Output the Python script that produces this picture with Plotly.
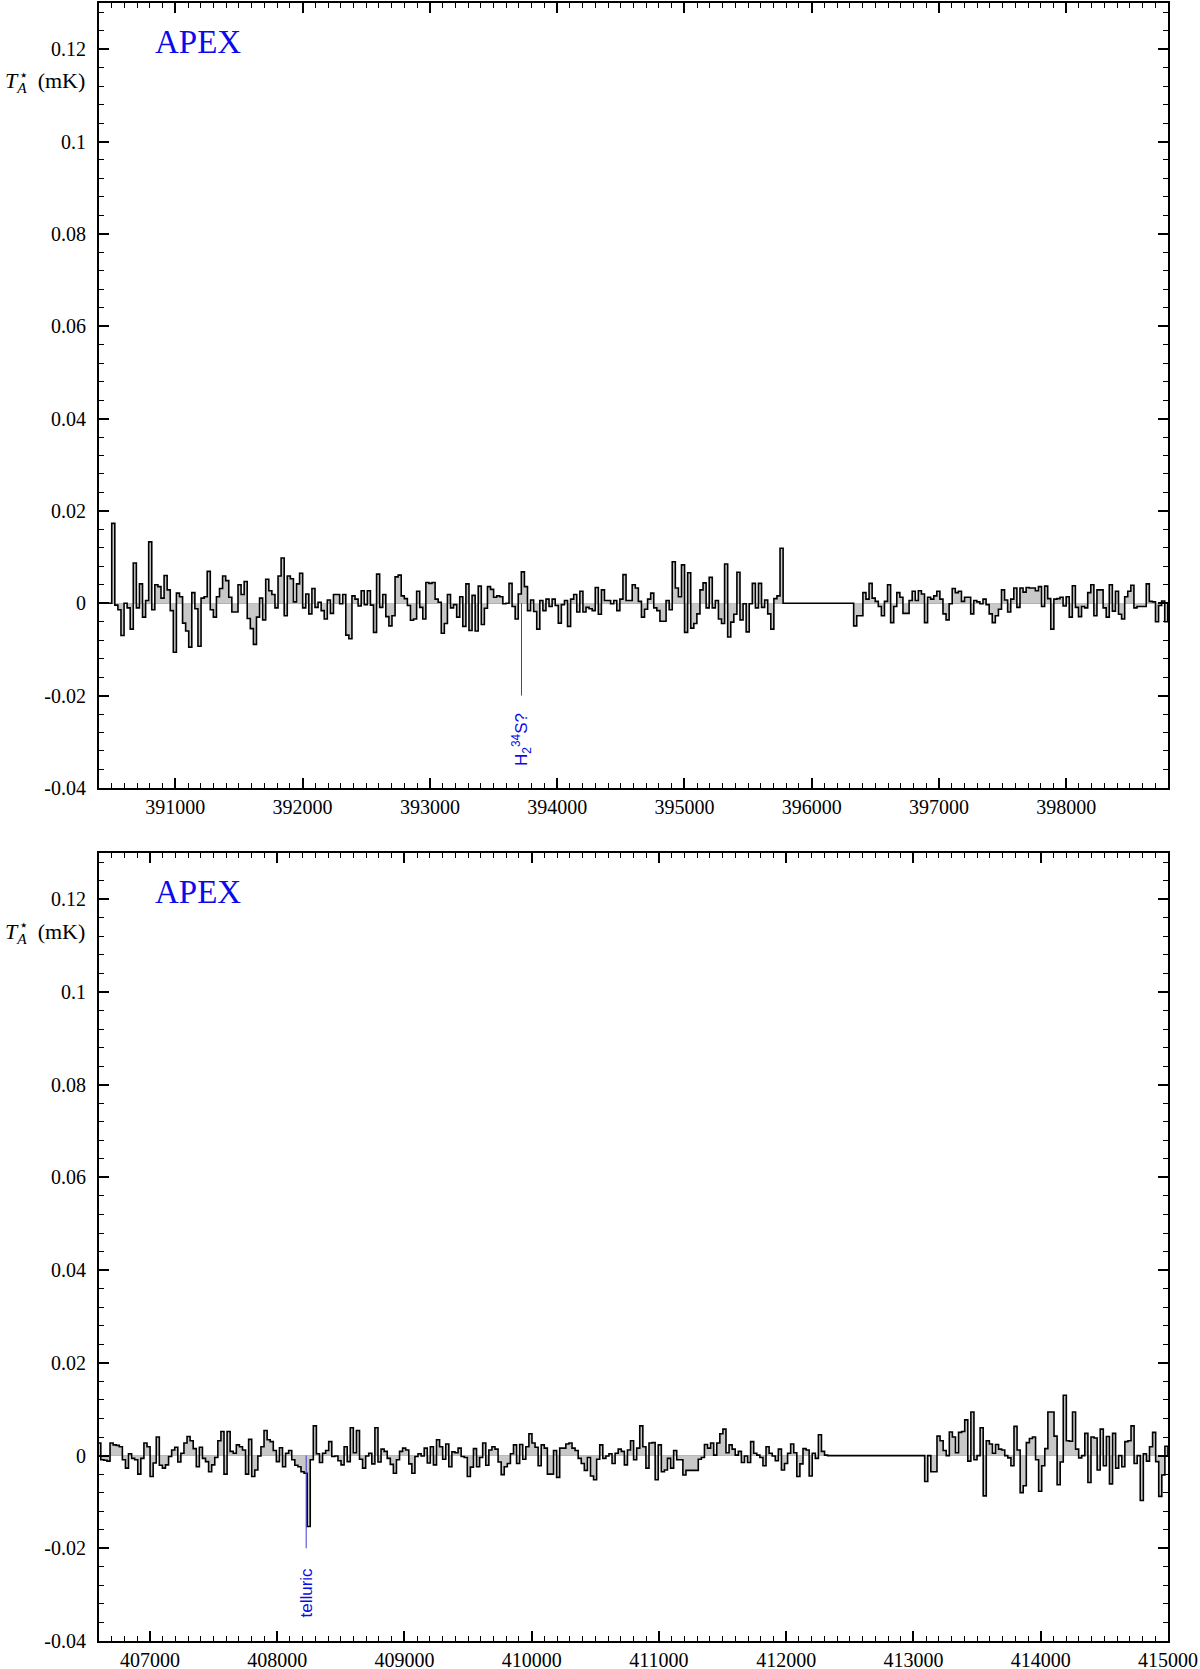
import plotly.graph_objects as go

# ---------------- data ----------------
CHAN_MHZ = 24.2

# top panel (APEX, 390.4-398.8 GHz)
top_x_range = [390400, 398800]
top_seg1_start = 390500
top_seg1_vals = [
    0.0173, -0.0004, -0.0014, -0.0070, 0.0000, -0.0010, -0.0056, 0.0087, -0.0010, 0.0042,
    -0.0030, 0.0006, 0.0133, -0.0014, 0.0040, 0.0036, 0.0011, 0.0060, 0.0029, -0.0016,
    -0.0106, 0.0022, 0.0014, -0.0043, -0.0060, -0.0095, 0.0023, -0.0012, -0.0093, 0.0011,
    0.0014, 0.0069, -0.0014, -0.0030, 0.0014, 0.0032, 0.0059, 0.0049, 0.0013, -0.0019,
    -0.0019, 0.0040, 0.0019, 0.0047, -0.0033, -0.0055, -0.0089, -0.0030, 0.0011, -0.0036,
    0.0052, 0.0027, 0.0019, -0.0010, 0.0059, 0.0098, -0.0027, 0.0059, 0.0053, 0.0003,
    0.0042, 0.0065, -0.0010, 0.0020, -0.0023, 0.0032, -0.0009, 0.0002, -0.0016, -0.0034,
    0.0007, -0.0022, 0.0019, 0.0019, -0.0001, 0.0019, -0.0069, -0.0077, 0.0016, 0.0009,
    -0.0006, 0.0027, -0.0003, 0.0027, -0.0004, -0.0063, 0.0063, -0.0009, 0.0019, -0.0029,
    -0.0049, -0.0027, 0.0057, 0.0061, 0.0016, 0.0010, -0.0005, -0.0037, -0.0034, 0.0026,
    -0.0009, -0.0034, 0.0045, 0.0043, 0.0045, 0.0009, 0.0002, -0.0065, -0.0044, 0.0019,
    -0.0010, -0.0003, -0.0030, 0.0014, -0.0050, 0.0042, -0.0059, 0.0017, -0.0060, 0.0037,
    -0.0046, -0.0011, 0.0036, 0.0030, 0.0013, 0.0016, 0.0014, -0.0001, 0.0000,
    0.0043, -0.0007, -0.0034, 0.0020, 0.0068, 0.0036, -0.0016, 0.0007, -0.0018, -0.0056,
    0.0006, -0.0016, 0.0009, -0.0007, 0.0009, -0.0005, -0.0043, -0.0003, 0.0006, -0.0050,
    0.0009, 0.0019, -0.0019, 0.0026, -0.0019, -0.0009, -0.0012, -0.0016, 0.0034, -0.0024,
    0.0029, 0.0006, 0.0006, -0.0001, 0.0006, -0.0016, 0.0009, 0.0062, 0.0006, 0.0006,
    0.0040, 0.0033, 0.0004, -0.0030, -0.0013, 0.0009, 0.0022, -0.0010, -0.0016, -0.0039,
    -0.0039, 0.0006, -0.0014, 0.0090, 0.0033, 0.0014, 0.0083, -0.0063, 0.0066, -0.0054,
    -0.0044, -0.0023, 0.0029, 0.0044, -0.0010, 0.0056, -0.0010, 0.0006, -0.0034, -0.0044,
    0.0085, -0.0073, -0.0041, -0.0024, 0.0067, -0.0036, -0.0001, -0.0062, -0.0001, 0.0043,
    -0.0010, 0.0043, -0.0009, 0.0007, -0.0023, -0.0056, 0.0010, 0.0016, 0.0119,
]
top_seg2_start = 396330
top_seg2_vals = [
    -0.0049, -0.0027, -0.0027, 0.0023, 0.0009, 0.0043, 0.0011, 0.0004, -0.0007, -0.0027,
    0.0004, 0.0040, -0.0042, -0.0007, 0.0023, 0.0013, -0.0022, -0.0022, 0.0006, 0.0026,
    0.0006, 0.0027, 0.0020, -0.0042, 0.0013, 0.0009, 0.0016, 0.0026, 0.0009, -0.0023,
    -0.0036, -0.0001, 0.0032, 0.0023, 0.0026, 0.0004, 0.0013, 0.0013, -0.0023, 0.0006,
    0.0003, -0.0001, 0.0009, -0.0003, -0.0023, -0.0042, -0.0027, -0.0013, 0.0029, 0.0007,
    -0.0019, 0.0009, 0.0033, -0.0009, 0.0033, 0.0024, 0.0034, 0.0033, 0.0033, 0.0027,
    0.0036, -0.0007, 0.0037, 0.0010, -0.0056, 0.0009, 0.0010, 0.0013, -0.0006, 0.0014,
    -0.0030, 0.0038, -0.0009, -0.0029, -0.0007, -0.0010, 0.0023, 0.0040, -0.0027, 0.0029,
    0.0029, -0.0010, -0.0030, 0.0040, -0.0017, 0.0026, -0.0024, -0.0034, 0.0014, 0.0026,
    0.0039, -0.0010, -0.0007, -0.0007, -0.0007, 0.0042, 0.0004, 0.0003, -0.0040, -0.0005,
    0.0005, -0.0040,
]

# bottom panel (APEX, 406.6-415 GHz)
bot_x_range = [406600, 415000]
bot_seg1_start = 406590
bot_seg1_vals = [
    0.0027, -0.0009, -0.0010, -0.0012, 0.0027, 0.0023, 0.0022, 0.0019, -0.0009, -0.0027,
    0.0004, -0.0006, -0.0009, -0.0040, -0.0006, 0.0027, 0.0019, -0.0045, -0.0016, 0.0040,
    -0.0021, -0.0027, -0.0020, -0.0002, 0.0012, 0.0018, -0.0014, 0.0005, 0.0027, 0.0041,
    0.0032, 0.0015, -0.0024, 0.0018, -0.0006, -0.0013, -0.0035, -0.0020, -0.0004, 0.0032,
    0.0052, -0.0040, 0.0052, 0.0009, 0.0005, 0.0023, 0.0019, 0.0012, -0.0040, 0.0035,
    -0.0045, -0.0031, -0.0001, 0.0019, 0.0054, 0.0034, 0.0030, 0.0011, -0.0013, 0.0017,
    -0.0024, 0.0005, 0.0011, -0.0009, -0.0021, -0.0024, -0.0035, -0.0038, -0.0153, -0.0009,
    0.0064, 0.0004, -0.0015, 0.0005, 0.0011, 0.0030, -0.0002, -0.0001, -0.0011, -0.0020,
    0.0019, -0.0013, 0.0060, 0.0006, 0.0054, -0.0008, -0.0027, -0.0001, 0.0005, -0.0018,
    0.0060, -0.0014, 0.0014, 0.0009, -0.0006, -0.0019, -0.0038, -0.0009, 0.0009, 0.0016,
    0.0012, -0.0018, -0.0038, -0.0002, 0.0004, -0.0001, 0.0016, -0.0016, 0.0019, -0.0020,
    0.0034, 0.0019, -0.0008, 0.0025, -0.0024, 0.0008, 0.0006, 0.0016, -0.0002, -0.0004,
    -0.0045, -0.0025, 0.0015, -0.0024, -0.0004, 0.0027, -0.0021, 0.0012, 0.0019,
    0.0014, -0.0014, -0.0041, -0.0024, -0.0017, 0.0004, 0.0023, -0.0017, 0.0024, -0.0008,
    0.0019, 0.0047, 0.0027, 0.0018, -0.0022, 0.0023, 0.0016, -0.0040, -0.0040, 0.0011,
    -0.0047, 0.0016, 0.0016, 0.0025, 0.0027, 0.0016, 0.0011, -0.0006, -0.0017, -0.0032,
    -0.0004, -0.0044, -0.0052, -0.0008, 0.0023, -0.0006, -0.0001, 0.0004, -0.0017, 0.0005,
    0.0014, 0.0009, -0.0020, 0.0012, 0.0032, -0.0009, 0.0016, 0.0064, 0.0019, -0.0027,
    0.0027, 0.0028, -0.0052, 0.0023, -0.0035, -0.0031, -0.0006, -0.0027, 0.0011, -0.0009,
    -0.0009, -0.0042, -0.0032, -0.0032, -0.0032, -0.0032, -0.0008, -0.0004, 0.0024, 0.0016,
    0.0027, 0.0001, 0.0027, 0.0047, 0.0057, 0.0006, 0.0023, 0.0014, 0.0001, 0.0009,
    -0.0015, -0.0001, -0.0015, 0.0030, 0.0005, 0.0001, -0.0004, -0.0022, 0.0019, 0.0005,
    -0.0001, -0.0011, 0.0014, -0.0031, -0.0017, 0.0005, 0.0025, 0.0006, -0.0045, -0.0018,
    0.0015, 0.0012, -0.0044, 0.0005, -0.0006, 0.0045, 0.0009, 0.0001,
]
bot_seg2_start = 413088
bot_seg2_vals = [
    -0.0056, 0.0000, -0.0035, -0.0035, 0.0042, 0.0032, 0.0011, 0.0000, 0.0051, 0.0040,
    0.0006, 0.0050, 0.0052, 0.0077, -0.0012, 0.0094, -0.0009, 0.0000, 0.0060, -0.0087,
    0.0032, 0.0025, 0.0005, 0.0024, 0.0014, 0.0012, 0.0000, -0.0005, -0.0022, 0.0063,
    0.0012, -0.0080, -0.0065, 0.0028, 0.0037, 0.0040, -0.0009, -0.0077, -0.0022, 0.0015,
    0.0094, 0.0094, 0.0042, -0.0063, -0.0014, 0.0130, 0.0032, 0.0031, 0.0094, 0.0014,
    -0.0005, 0.0000, 0.0048, -0.0058, 0.0040, 0.0038, -0.0031, 0.0057, -0.0022, 0.0041,
    -0.0061, 0.0048, -0.0027, 0.0000, -0.0024, 0.0030, 0.0032, 0.0064, -0.0017, 0.0000,
    -0.0097, 0.0004, -0.0012, 0.0019, 0.0050, -0.0013, -0.0088, -0.0042, 0.0020,
]

y_range = [-0.04, 0.13]
y_tick_vals = [-0.04, -0.02, 0, 0.02, 0.04, 0.06, 0.08, 0.1, 0.12]
y_tick_text = ["-0.04", "-0.02", "0", "0.02", "0.04", "0.06", "0.08", "0.1", "0.12"]
top_x_ticks = [391000, 392000, 393000, 394000, 395000, 396000, 397000, 398000]
bot_x_ticks = [407000, 408000, 409000, 410000, 411000, 412000, 413000, 414000, 415000]

# line identifications: (freq, label)
top_lines = [(393720, "H<sub>2</sub><sup>34</sup>S?")]
bot_lines = [(408228, "telluric")]
panel_label = "APEX"
y_title = "<i>T</i><sub><i>A</i></sub>\u00a0\u00a0(mK)"

# ---------------- build ----------------
SERIF = "Liberation Serif, Times New Roman, serif"
SANS = "Liberation Sans, Arial, sans-serif"
BLUE_TXT = "rgb(10,10,235)"
BLUE_LINE = "rgb(60,60,215)"


def step_xy(xmin, segments):
    xs, ys = [xmin], [0.0]
    for start, vals in segments:
        xs.append(start)
        ys.append(0.0)
        for k, v in enumerate(vals):
            xs.append(start + k * CHAN_MHZ)
            ys.append(v)
        end = start + len(vals) * CHAN_MHZ
        xs.append(end)
        ys.append(0.0)
    return xs, ys


fig = go.Figure()
panels = [
    ("x", "y", top_x_range, [(top_seg1_start, top_seg1_vals), (top_seg2_start, top_seg2_vals)], top_lines),
    ("x2", "y2", bot_x_range, [(bot_seg1_start, bot_seg1_vals), (bot_seg2_start, bot_seg2_vals)], bot_lines),
]

for xa, ya, xr, segs, lines in panels:
    xs, ys = step_xy(xr[0], segs)
    fig.add_trace(go.Scatter(
        x=xs, y=ys, xaxis=xa, yaxis=ya, mode="lines",
        line=dict(color="black", width=1.6, shape="hv"),
        fill="tozeroy", fillcolor="rgb(200,200,200)", showlegend=False, hoverinfo="skip",
    ))
    for f, lab in lines:
        fig.add_shape(type="line", xref=xa, yref=ya, x0=f, x1=f, y0=0, y1=-0.02,
                      line=dict(color=BLUE_LINE, width=1))
        fig.add_annotation(xref=xa, yref=ya, x=f, y=-0.0295, text=lab, textangle=-90,
                           showarrow=False, xanchor="center", yanchor="middle",
                           font=dict(family=SANS, size=17, color=BLUE_TXT))
    fig.add_annotation(xref=xa + " domain", yref=ya, x=0.0505, y=0.1216, text=panel_label,
                       showarrow=False, xanchor="left", yanchor="middle",
                       font=dict(family=SERIF, size=33, color=BLUE_TXT))
    fig.add_annotation(xref=xa + " domain", yref=ya, x=0, y=0.1128, text=y_title,
                       showarrow=False, xanchor="right", yanchor="middle", xshift=-12,
                       font=dict(family=SERIF, size=22, color="black"))
    fig.add_annotation(xref=xa + " domain", yref=ya, x=0, y=0.1145, text="\u22c6",
                       showarrow=False, xanchor="center", yanchor="middle", xshift=-76,
                       font=dict(family="DejaVu Sans", size=15, color="black"))

axis_common = dict(
    showline=True, linecolor="black", linewidth=2, mirror="ticks",
    ticks="inside", tickcolor="black", tickwidth=1.5, ticklen=10,
    showgrid=False, zeroline=False, automargin=False,
    tickfont=dict(family=SERIF, size=20, color="black"),
)
minor_x = dict(dtick=100, tick0=0, ticks="inside", ticklen=5, tickwidth=1.2, tickcolor="black")
minor_y = dict(dtick=0.004, tick0=0, ticks="inside", ticklen=5, tickwidth=1.2, tickcolor="black")

fig.update_layout(
    width=1200, height=1669,
    margin=dict(l=99, r=32, t=3, b=28, autoexpand=False),
    paper_bgcolor="white", plot_bgcolor="white",
    showlegend=False,
    xaxis=dict(axis_common, domain=[0, 1], anchor="y", range=top_x_range,
               tickvals=top_x_ticks, ticktext=[str(v) for v in top_x_ticks], minor=minor_x),
    yaxis=dict(axis_common, domain=[0.5208, 1], anchor="x", range=y_range,
               tickvals=y_tick_vals, ticktext=y_tick_text, ticklabelstandoff=7,
               zeroline=True, zerolinecolor="rgb(170,170,170)", zerolinewidth=1, minor=minor_y),
    xaxis2=dict(axis_common, domain=[0, 1], anchor="y2", range=bot_x_range,
                tickvals=bot_x_ticks, ticktext=[str(v) for v in bot_x_ticks], minor=minor_x),
    yaxis2=dict(axis_common, domain=[0, 0.4811], anchor="x2", range=y_range,
                tickvals=y_tick_vals, ticktext=y_tick_text, ticklabelstandoff=7,
                zeroline=True, zerolinecolor="rgb(170,170,170)", zerolinewidth=1, minor=minor_y),
)

fig.write_html("out.html", config={"displayModeBar": False},
               post_script="document.body.style.margin='0';")
